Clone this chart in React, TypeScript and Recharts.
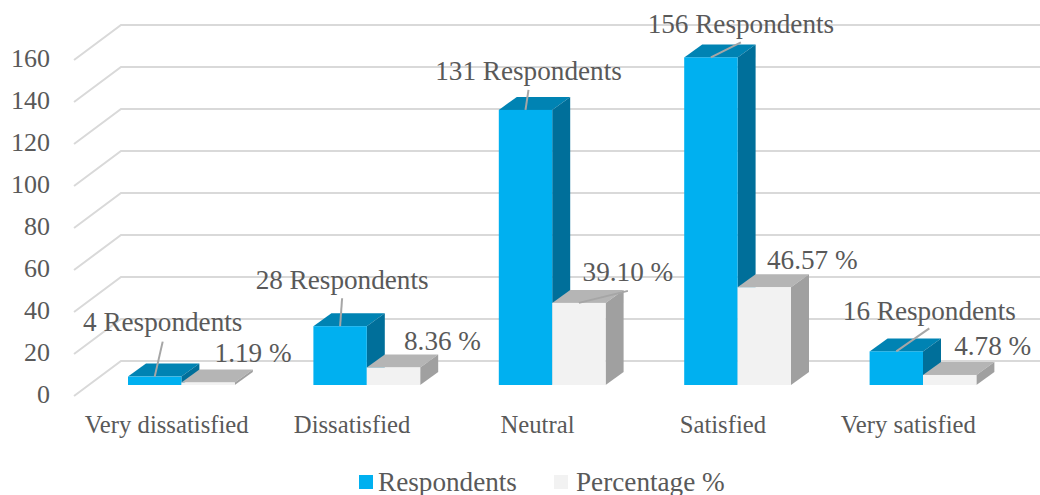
import { BarChart, Bar, XAxis, YAxis, CartesianGrid, Legend, LabelList } from 'recharts'

const categories = ['Very dissatisfied', 'Dissatisfied', 'Neutral', 'Satisfied', 'Very satisfied']
const respondents = [4, 28, 131, 156, 16]
const percentages = [1.19, 8.36, 39.1, 46.57, 4.78]
const yTicks = [0, 20, 40, 60, 80, 100, 120, 140, 160]

const data = categories.map((name, i) => ({ name, respondents: respondents[i], percentage: percentages[i] }))

// fake 3D: where the bars sit on the floor and how deep they are
const FLOOR_DX = 15
const FLOOR_DY = -11
const DEPTH_DX = 18
const DEPTH_DY = -13
const WALL_DX = 47
const WALL_DY = -35

// label placement relative to the top of each bar front [text dx, text dy, leader end dy]
const respondentLabelPos = [[8, -55, -35], [2, -46, -28], [3, -39, -20], [30, -33, -15], [33, -40, -23]]
const percentLabelPos = [[45, -30, 0], [49, -26, 0], [49, -31, -12], [48, -27, 0], [43, -29, 0]]

const FONT = '"Liberation Serif", serif'
const TEXT = '#595959'
const LEADER = '#a6a6a6'

function Box3D({ x, y, width, height, fill, top, side }: any) {
  const l = x + FLOOR_DX
  const r = l + width
  const t = y + FLOOR_DY
  const b = t + height
  return (
    <g>
      <polygon points={`${l},${t} ${r},${t} ${r + DEPTH_DX},${t + DEPTH_DY} ${l + DEPTH_DX},${t + DEPTH_DY}`} fill={top} />
      <polygon points={`${r},${t} ${r + DEPTH_DX},${t + DEPTH_DY} ${r + DEPTH_DX},${b + DEPTH_DY} ${r},${b}`} fill={side} />
      <rect x={l} y={t} width={width} height={Math.max(height, 0)} fill={fill} />
    </g>
  )
}

function WallLine({ x1, y1, x2 }: any) {
  return (
    <polyline
      points={`${x1},${y1} ${x1 + WALL_DX},${y1 + WALL_DY} ${x2 + 39},${y1 + WALL_DY}`}
      fill="none" stroke="#d9d9d9" strokeWidth={2}
    />
  )
}

function makeLabel(pos: number[][], fmt: (v: number) => string) {
  return function BarLabel({ x, y, width, value, index }: any) {
    const cx = x + FLOOR_DX + width / 2
    const cy = y + FLOOR_DY
    const [dx, dy, lead] = pos[index]
    return (
      <g>
        {lead !== 0 && <line x1={cx} y1={cy} x2={cx + dx} y2={cy + lead} stroke={LEADER} strokeWidth={2} />}
        <text x={cx + dx} y={cy + dy} textAnchor="middle" dominantBaseline="central"
          fontFamily={FONT} fontSize={27.2} fill={TEXT}>
          {fmt(value)}
        </text>
      </g>
    )
  }
}

function LegendRow({ payload }: any) {
  const lefts = [359, 554]
  return (
    <div style={{ position: 'relative', height: 30 }}>
      {(payload ?? []).map((p: any, i: number) => (
        <div key={p.value} style={{ position: 'absolute', left: lefts[i], top: 0, display: 'flex', alignItems: 'center', height: 30 }}>
          <span style={{ width: 14, height: 14, background: p.color, marginRight: i === 0 ? 5 : 8 }} />
          <span style={{ fontFamily: FONT, fontSize: 27.2, color: TEXT, whiteSpace: 'nowrap' }}>{p.value}</span>
        </div>
      ))}
    </div>
  )
}

export default function App() {
  return (
    <div style={{ position: 'absolute', left: 0, top: 0, width: 1040, height: 495, overflow: 'hidden', background: '#fff' }}>
      <BarChart
        width={1040} height={495} data={data}
        margin={{ top: 60, right: 39, bottom: 19, left: 0 }}
        barSize={53.4} barGap={0}
      >
        <CartesianGrid vertical={false} horizontal={WallLine as any} />
        <XAxis
          dataKey="name" height={50} axisLine={false} tickLine={false} tickSize={0} tickMargin={19} interval={0}
          tick={{ fontFamily: FONT, fontSize: 24.7, fill: TEXT }}
        />
        <YAxis
          width={74} domain={[0, 160]} ticks={yTicks} axisLine={false} tickLine={false} tickSize={0} tickMargin={24}
          tick={{ fontFamily: FONT, fontSize: 26, fill: TEXT, dy: -2 }}
        />
        <Legend
          verticalAlign="bottom" height={30} content={LegendRow as any} itemSorter={null}
          wrapperStyle={{ left: 0, top: 467, width: 1040, height: 30 }}
        />
        <Bar dataKey="respondents" name="Respondents" fill="#00b0f0" isAnimationActive={false}
          shape={(p: any) => <Box3D {...p} top="#0083b3" side="#006f9a" />}>
          <LabelList dataKey="respondents" content={makeLabel(respondentLabelPos, v => `${v} Respondents`) as any} />
        </Bar>
        <Bar dataKey="percentage" name="Percentage %" fill="#f2f2f2" isAnimationActive={false}
          shape={(p: any) => <Box3D {...p} top="#b5b5b5" side="#a0a0a0" />}>
          <LabelList dataKey="percentage" content={makeLabel(percentLabelPos, v => `${v.toFixed(2)} %`) as any} />
        </Bar>
      </BarChart>
    </div>
  )
}
